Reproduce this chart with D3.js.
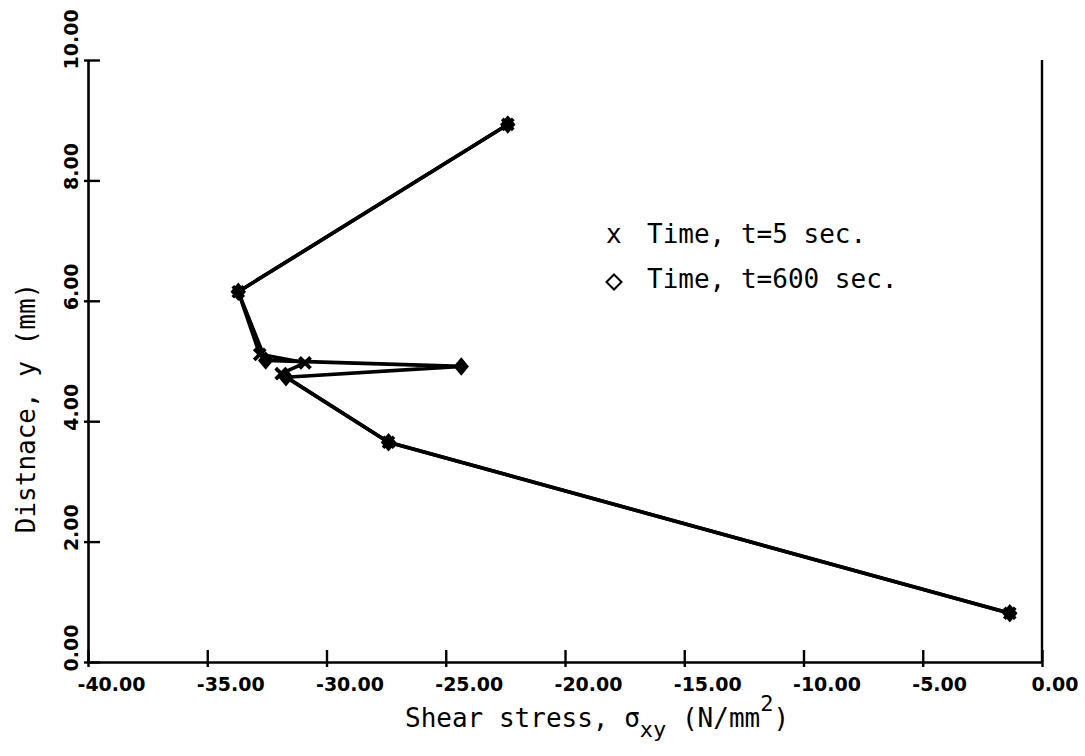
<!DOCTYPE html>
<html>
<head>
<meta charset="utf-8">
<script src="https://cdn.jsdelivr.net/npm/d3@7"></script>
<style>
  html, body { margin: 0; padding: 0; background: #fff; }
  svg { display: block; }
</style>
</head>
<body>
<svg id="chart" width="1085" height="756"></svg>
<script>
// Shear stress through the thickness at two times
const xTickValues = [-40, -35, -30, -25, -20, -15, -10, -5, 0];
const yTickValues = [0, 2, 4, 6, 8, 10];

const stressT5 = [-22.4, -33.7, -32.8, -30.9, -31.9, -27.4, -1.35];
const distanceT5 = [8.93, 6.15, 5.11, 4.97, 4.79, 3.65, 0.81];

const stressT600 = [-22.4, -33.7, -32.55, -24.35, -31.7, -27.4, -1.35];
const distanceT600 = [8.93, 6.15, 5.01, 4.91, 4.73, 3.65, 0.81];

const seriesNames = ["Time, t=5 sec.", "Time, t=600 sec."];
const seriesMarkers = ["cross", "diamond"];

const series = [
  { name: seriesNames[0], marker: seriesMarkers[0], pts: stressT5.map((s, i) => [s, distanceT5[i]]) },
  { name: seriesNames[1], marker: seriesMarkers[1], pts: stressT600.map((s, i) => [s, distanceT600[i]]) }
];

const svg = d3.select("#chart");
const plotLeft = 88, plotRight = 1042, plotTop = 60, plotBottom = 662;

const x = d3.scaleLinear().domain([-40, 0]).range([plotLeft, plotRight]);
const y = d3.scaleLinear().domain([0, 10]).range([plotBottom, plotTop]);

const tickFont = "'DejaVu Sans', sans-serif";
const textFont = "'DejaVu Sans Mono', monospace";

// Right-hand frame line
svg.append("line")
  .attr("x1", plotRight).attr("x2", plotRight).attr("y1", y(10)).attr("y2", plotBottom)
  .attr("stroke", "#000").attr("stroke-width", 2.4);

// X axis
const gx = svg.append("g").attr("transform", `translate(0,${plotBottom})`)
  .call(d3.axisBottom(x).tickValues(xTickValues).tickSize(0).tickPadding(0).tickFormat(d => d.toFixed(2)));
gx.select(".domain").attr("stroke", "#000").attr("stroke-width", 2.6);
gx.selectAll(".tick line").attr("stroke", "#000").attr("stroke-width", 2.4).attr("y1", 5).attr("y2", -12);
gx.selectAll(".tick text")
  .attr("font-family", tickFont).attr("font-weight", "bold").attr("font-size", 19)
  .attr("fill", "#000").attr("text-anchor", "start")
  .attr("x", -11).attr("y", 29).attr("dy", 0);

// Y axis
const gy = svg.append("g").attr("transform", `translate(${plotLeft},0)`)
  .call(d3.axisLeft(y).tickValues(yTickValues).tickSize(0).tickPadding(0).tickFormat(d => d.toFixed(2)));
gy.select(".domain").attr("stroke", "#000").attr("stroke-width", 2.6);
gy.selectAll(".tick line").attr("stroke", "#000").attr("stroke-width", 2.4).attr("x1", -4).attr("x2", 12);
gy.selectAll(".tick text")
  .attr("font-family", tickFont).attr("font-weight", "bold").attr("font-size", 19)
  .attr("fill", "#000").attr("text-anchor", "start")
  .attr("x", 0).attr("dy", 0)
  .attr("transform", "translate(-10,9) rotate(-90)");

// Lines
const line = d3.line().x(d => x(d[0])).y(d => y(d[1]));
series.forEach(s => {
  svg.append("path").datum(s.pts)
    .attr("d", line).attr("fill", "none")
    .attr("stroke", "#000").attr("stroke-width", 3.6)
    .attr("stroke-linejoin", "round");
});

// Markers
function drawMarker(g, type, cx, cy, r) {
  if (type === "cross") {
    g.append("path")
      .attr("d", `M${cx - r},${cy - r}L${cx + r},${cy + r}M${cx - r},${cy + r}L${cx + r},${cy - r}`)
      .attr("stroke", "#000").attr("stroke-width", 3.8).attr("fill", "none");
  } else {
    g.append("path")
      .attr("d", `M${cx},${cy - r * 1.2}L${cx + r},${cy}L${cx},${cy + r * 1.2}L${cx - r},${cy}Z`)
      .attr("stroke", "#000").attr("stroke-width", 3.4).attr("fill", "#000");
  }
}
const gm = svg.append("g");
series.forEach(s => {
  s.pts.forEach(p => drawMarker(gm, s.marker, x(p[0]), y(p[1]), 5.5));
});

// Legend
const legend = svg.append("g");
series.forEach((s, i) => {
  const ly = 243 + i * 45;
  if (s.marker === "cross") {
    legend.append("text").attr("x", 606).attr("y", ly)
      .attr("font-family", textFont).attr("font-size", 26).attr("fill", "#000").text("x");
  } else {
    const cx = 614, cy = ly - 6;
    legend.append("path")
      .attr("d", `M${cx},${cy - 7.5}L${cx + 7.5},${cy}L${cx},${cy + 7.5}L${cx - 7.5},${cy}Z`)
      .attr("fill", "none").attr("stroke", "#000").attr("stroke-width", 2);
  }
  legend.append("text").attr("x", 647).attr("y", ly)
    .attr("font-family", textFont).attr("font-size", 26).attr("fill", "#000")
    .text(s.name);
});

// Axis titles
const xt = svg.append("text").attr("x", 405).attr("y", 727)
  .attr("font-family", textFont).attr("font-size", 26).attr("fill", "#000");
xt.append("tspan").text("Shear stress, σ");
xt.append("tspan").attr("dy", 10).attr("font-size", 22).text("xy");
xt.append("tspan").attr("dy", -10).text(" (N/mm");
xt.append("tspan").attr("dy", -16).attr("font-size", 22).text("2");
xt.append("tspan").attr("dy", 16).text(")");

svg.append("text")
  .attr("transform", "translate(35,408) rotate(-90)")
  .attr("text-anchor", "middle")
  .attr("font-family", textFont).attr("font-size", 26).attr("fill", "#000")
  .text("Distnace, y (mm)");
</script>
</body>
</html>
